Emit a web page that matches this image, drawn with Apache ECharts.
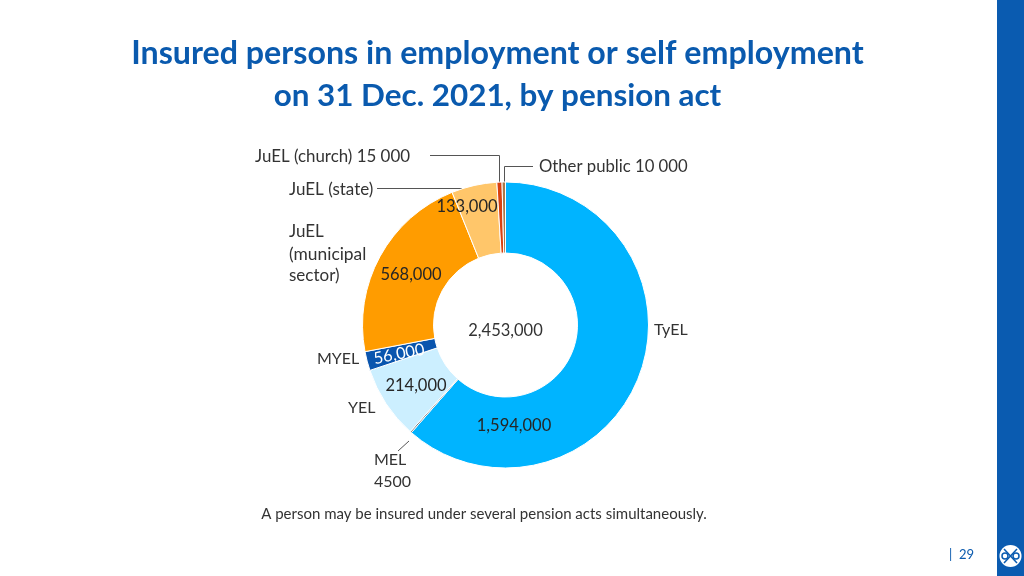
<!DOCTYPE html>
<html><head><meta charset="utf-8">
<style>html,body{margin:0;padding:0;background:#fff}#c{width:1024px;height:576px}</style>
<script src="https://cdn.jsdelivr.net/npm/echarts@6/dist/echarts.min.js"></script>
</head><body><div id="c"></div>
<script>
const categories=["TyEL","MEL","YEL","MYEL","JuEL (municipal sector)","JuEL (state)","JuEL (church)","Other public"];
const values=[1594000,4500,214000,56000,568000,133000,15000,10000];
const valueLabels=["1,594,000","","214,000","56,000","568,000","133,000","",""];
const colors=["#00B4FF","#6E7478","#CCEFFF","#0A55AE","#FF9C00","#FFC66A","#D9400F","#A8794A"];
const total="2,453,000";
const titleLines=["Insured persons in employment or self employment","on 31 Dec. 2021, by pension act"];
const note="A person may be insured under several pension acts simultaneously.";
const labelPos=[[514,426],null,[416,386],[399,354],[411,275],[467,207],null,null];
const labelRot=[0,0,0,11,0,0,0,0];
const F="Lato, 'Open Sans', sans-serif";
const txt=(x,y,t,o={})=>({type:'text',x,y,style:{text:t,font:`${o.w||400} ${o.s||16}px ${F}`,fill:o.c||'#333',textAlign:o.a||'left',textVerticalAlign:'middle'}});
const ln=(pts)=>({type:'polyline',shape:{points:pts},style:{stroke:'#555',lineWidth:1,fill:null}});
const chart=echarts.init(document.getElementById('c'),null,{renderer:'canvas'});
chart.setOption({
 animation:false,
 graphic:[
  {type:'rect',shape:{x:997,y:0,width:27,height:576},style:{fill:'#0A5BB0'}},
  {type:'circle',shape:{cx:1010.5,cy:556,r:11},style:{fill:'#fff'}},
  {type:'polyline',shape:{points:[[1004,549],[1017,563]]},style:{stroke:'#0A5BB0',lineWidth:1.5,fill:null}},
  {type:'polyline',shape:{points:[[1017,549],[1004,563]]},style:{stroke:'#0A5BB0',lineWidth:1.5,fill:null}},
  {type:'circle',shape:{cx:1005,cy:556,r:3},style:{fill:'#fff',stroke:'#0A5BB0',lineWidth:1.5}},
  {type:'circle',shape:{cx:1016,cy:556,r:3},style:{fill:'#fff',stroke:'#0A5BB0',lineWidth:1.5}},
  txt(497.5,54,titleLines[0],{s:32.2,w:700,c:'#0A5AAE',a:'center'}),
  txt(497.5,96,titleLines[1],{s:31.4,w:700,c:'#0A5AAE',a:'center'}),
  txt(505.5,331,total,{s:16.5,a:'center'}),
  txt(484,514,note,{s:15,a:'center'}),
  txt(255,157,"JuEL (church) 15 000",{s:16.9}),
  txt(289,190,"JuEL (state)",{s:17}),
  txt(289,232,"JuEL",{s:17}),
  txt(289,254,"(municipal",{s:17.4}),
  txt(289,276,"sector)",{s:17}),
  txt(317,359,"MYEL",{s:16}),
  txt(348,408,"YEL",{s:16}),
  txt(374,460,"MEL",{s:16}),
  txt(374,482,"4500",{s:16}),
  txt(654,330,"TyEL",{s:16}),
  txt(539,167,"Other public 10 000",{s:16.7}),
  ln([[430,155.5],[499.5,155.5],[499.5,182]]),
  ln([[504.5,182],[504.5,166.5],[533,166.5]]),
  ln([[377,188.5],[462,188.5]]),
  ln([[398,451],[409,441]]),
  txt(949,555,"|",{s:13,c:'#0A5AAE'}),
  txt(959,555,"29",{s:13,c:'#0A5AAE'})
 ],
 series:[{
  type:'pie',center:[505.5,325],radius:[72,143],startAngle:90,clockwise:true,
  minAngle:0,avoidLabelOverlap:false,silent:true,
  itemStyle:{borderColor:'#fff',borderWidth:1},
  labelLine:{show:false},
  label:{show:true,position:'inside',fontFamily:F,fontSize:16.5,color:'#262626',formatter:p=>valueLabels[p.dataIndex]},
  labelLayout:p=>{const q=labelPos[p.dataIndex];return q?{x:q[0],y:q[1],align:'center',verticalAlign:'middle',rotate:labelRot[p.dataIndex]}:{}; },
  data:categories.map((n,i)=>({name:n,value:values[i],itemStyle:{color:colors[i]},
    label:i===3?{color:'#fff'}:undefined}))
 }]
});
</script></body></html>
